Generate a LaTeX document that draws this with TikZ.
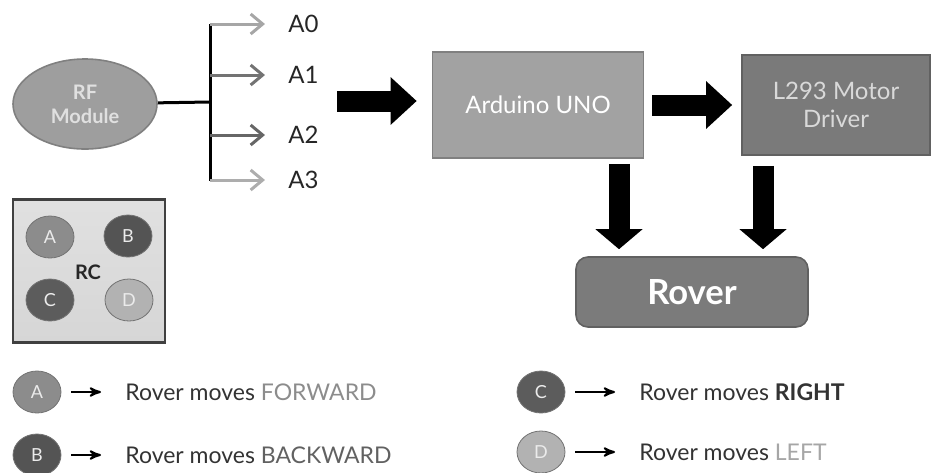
\documentclass[tikz,border=0pt]{standalone}
\usepackage{fontspec}
\setsansfont{Lato}
\usetikzlibrary{arrows,arrows.meta,shapes.geometric,positioning}
\tikzset{>=stealth'}

\definecolor{rffill}{HTML}{9E9E9E}
\definecolor{ardfill}{HTML}{A2A2A2}
\definecolor{drvfill}{HTML}{7A7A7A}
\definecolor{roverfill}{HTML}{7B7B7B}
\definecolor{rcfill}{HTML}{D6D6D6}
\definecolor{legtext}{HTML}{333333}

\begin{document}
\begin{tikzpicture}[x=0.5pt,y=-0.5pt,font=\sffamily]

\tikzstyle{blockbox}=[draw,line width=0.8pt,inner sep=0pt,align=center,text=white]
\tikzstyle{fatright}=[line width=10.5pt,-{Triangle[length=13pt,width=23pt]}]
\tikzstyle{fatdown}=[line width=10.5pt,-{Triangle[length=10pt,width=23pt]}]
\tikzstyle{btn}=[ellipse,draw=black!55,line width=0.4pt,minimum width=24pt,
  minimum height=21pt,inner sep=0pt,text=white!92!black,font=\sffamily\small]
\tikzstyle{pin}=[anchor=west,inner sep=0pt,text=black!85,font=\sffamily\large]
\tikzstyle{leg}=[anchor=west,inner sep=0pt,text=legtext,font=\sffamily\fontsize{11.5}{13}\selectfont]

\useasboundingbox (0,0) rectangle (932,472);

% receiver side
\node[ellipse,blockbox,fill=rffill,draw=black!50,minimum width=72pt,
  minimum height=45pt,text=white!88!black,font=\sffamily\normalsize\bfseries] (rf) at (85,104) {RF\\Module};
\coordinate (bus) at (210,102);
\coordinate (bustop) at (210,24);
\coordinate (busbot) at (210,181);
\draw[line width=1.5pt] (rf) -- (bus);
\draw[line width=1.5pt] (bustop) -- (busbot);

\foreach \n/\y/\c in {0/24/black!35,1/75/black!55,2/135/black!60,3/180/black!32}{
  \node[pin] (a\n) at (288,\y) {A\n};
  \coordinate (b\n) at (210,\y);
  \draw[line width=1.5pt,draw=\c,-{Straight Barb[length=6pt,width=10pt]},
    shorten >=11.5pt] (b\n) -- (a\n.west);
}

% blocks
\node[blockbox,fill=ardfill,draw=black!50,minimum width=105.5pt,
  minimum height=53pt,font=\sffamily\large] (ard) at (538,105) {Arduino UNO};
\node[blockbox,fill=drvfill,draw=black!62,minimum width=94pt,
  minimum height=50pt,text=white!85!black,font=\sffamily\large] (drv) at (836,105) {L293 Motor\\Driver};
\node[blockbox,fill=roverfill,draw=black!62,rounded corners=6pt,
  minimum width=116pt,minimum height=35pt,font=\sffamily\LARGE\bfseries] (rover) at (692,292) {Rover};

\coordinate (in) at (337,101);
\draw[fatright,shorten >=7.5pt] (in) -- (ard.west |- in);
\draw[fatright,shorten <=4pt,shorten >=4.5pt] (ard.east |- drv) -- (drv.west);
\draw[fatdown,shorten <=2.5pt,shorten >=3.5pt] (ard.south -| 619,0) -- (rover.north -| 619,0);
\draw[fatdown,shorten <=5pt,shorten >=3.5pt] (drv.south -| 763,0) -- (rover.north -| 763,0);

% remote control
\node[draw=black!75,line width=1.2pt,top color=white!88!black,bottom color=rcfill,
  minimum width=76pt,minimum height=71.5pt] (rc) at (89,271) {};
\node[font=\sffamily\normalsize\bfseries,text=black!85] (rclab) at (88,272) {RC};
\node[btn,fill=black!45] (ka) at (50,237) {A};
\node[btn,fill=black!67] (kb) at (128,236) {B};
\node[btn,fill=black!64] (kc) at (50,300) {C};
\node[btn,fill=black!30] (kd) at (129,300) {D};

% legend
\node[btn,fill=black!45] (la) at (37,392) {A};
\node[leg] (ta) at (125,392) {Rover moves \textcolor{black!45}{FORWARD}};
\node[btn,fill=black!67] (lb) at (37,455) {B};
\node[leg] (tb) at (125,455) {Rover moves \textcolor{black!62}{BACKWARD}};
\node[btn,fill=black!64] (lc) at (541,392) {C};
\node[leg] (tc) at (639,392) {Rover moves \textbf{RIGHT}};
\node[btn,fill=black!30] (ld) at (541,452) {D};
\node[leg] (td) at (639,452) {Rover moves \textcolor{black!35}{LEFT}};

\foreach \k in {a,b,c,d}
  \draw[->,line width=1pt,shorten <=5pt,shorten >=12pt] (l\k) -- (t\k.west);
\end{tikzpicture}
\end{document}
